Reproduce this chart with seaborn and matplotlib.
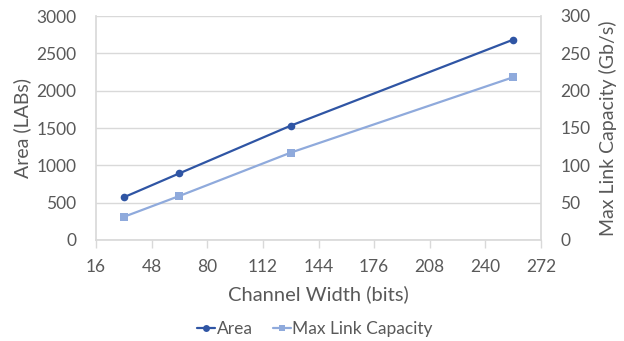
import matplotlib
matplotlib.use("Agg")
import matplotlib.pyplot as plt
import seaborn as sns
import pandas as pd
from matplotlib.lines import Line2D

channel_width = [32, 64, 128, 256]
area = [572, 893, 1531, 2683]
capacity = [31, 59, 117, 218]
x_ticks = [16, 48, 80, 112, 144, 176, 208, 240, 272]

sns.set_theme(style="white")
plt.rcParams['font.family'] = ['Lato', 'DejaVu Sans']

TXT = "#595959"
GRID = "#d9d9d9"
C_AREA = "#2f55a4"
C_CAP = "#8faadc"

df = pd.DataFrame({"w": channel_width, "area": area, "cap": capacity})

fig = plt.figure(figsize=(6.24, 3.41), dpi=100)
ax = fig.add_axes([96/624, 1-240/341, (541-96)/624, (240-16)/341])
ax2 = ax.twinx()

sns.lineplot(data=df, x="w", y="area", ax=ax, color=C_AREA, marker="o",
             markersize=5.5, markeredgewidth=0, linewidth=1.6)
sns.lineplot(data=df, x="w", y="cap", ax=ax2, color=C_CAP, marker="s",
             markersize=5.5, markeredgewidth=0, linewidth=1.6)

ax.set_xlim(16, 272)
ax.set_ylim(0, 3000)
ax2.set_ylim(0, 300)
ax.set_xticks(x_ticks)
ax.set_yticks(range(0, 3001, 500))
ax2.set_yticks(range(0, 301, 50))
ax.grid(axis="y", color=GRID, linewidth=1)
ax.set_axisbelow(True)

for a in (ax, ax2):
    for s in a.spines.values():
        s.set_visible(False)
ax.spines["bottom"].set_visible(True)
ax.spines["bottom"].set_color(GRID)
ax.spines["left"].set_visible(True)
ax.spines["left"].set_color(GRID)
ax2.spines["right"].set_visible(True)
ax2.spines["right"].set_color(GRID)

ax.tick_params(axis="x", colors=TXT, labelsize=12.5, length=6, width=1, color=GRID, pad=8, direction="out", bottom=True)
ax.tick_params(axis="y", colors=TXT, labelsize=12.5, length=0, pad=14)
ax2.tick_params(axis="y", colors=TXT, labelsize=12.5, length=0, pad=14)

ax.set_xlabel("Channel Width (bits)", color=TXT, fontsize=14.5, labelpad=7)
ax.set_ylabel("Area (LABs)", color=TXT, fontsize=14, labelpad=4)
ax2.set_ylabel("Max Link Capacity (Gb/s)", color=TXT, fontsize=14, labelpad=6)

handles = [Line2D([], [], color=C_AREA, marker="o", markersize=5, markeredgewidth=0, linewidth=1.6),
           Line2D([], [], color=C_CAP, marker="s", markersize=5, markeredgewidth=0, linewidth=1.6)]
fig.legend(handles, ["Area", "Max Link Capacity"], loc="center", bbox_to_anchor=(0.505, 1-329/341),
           ncol=2, frameon=False, fontsize=12.5, labelcolor=TXT, handlelength=1.0,
           handletextpad=0.1, columnspacing=1.2)

fig.savefig("out.png", dpi=100)
